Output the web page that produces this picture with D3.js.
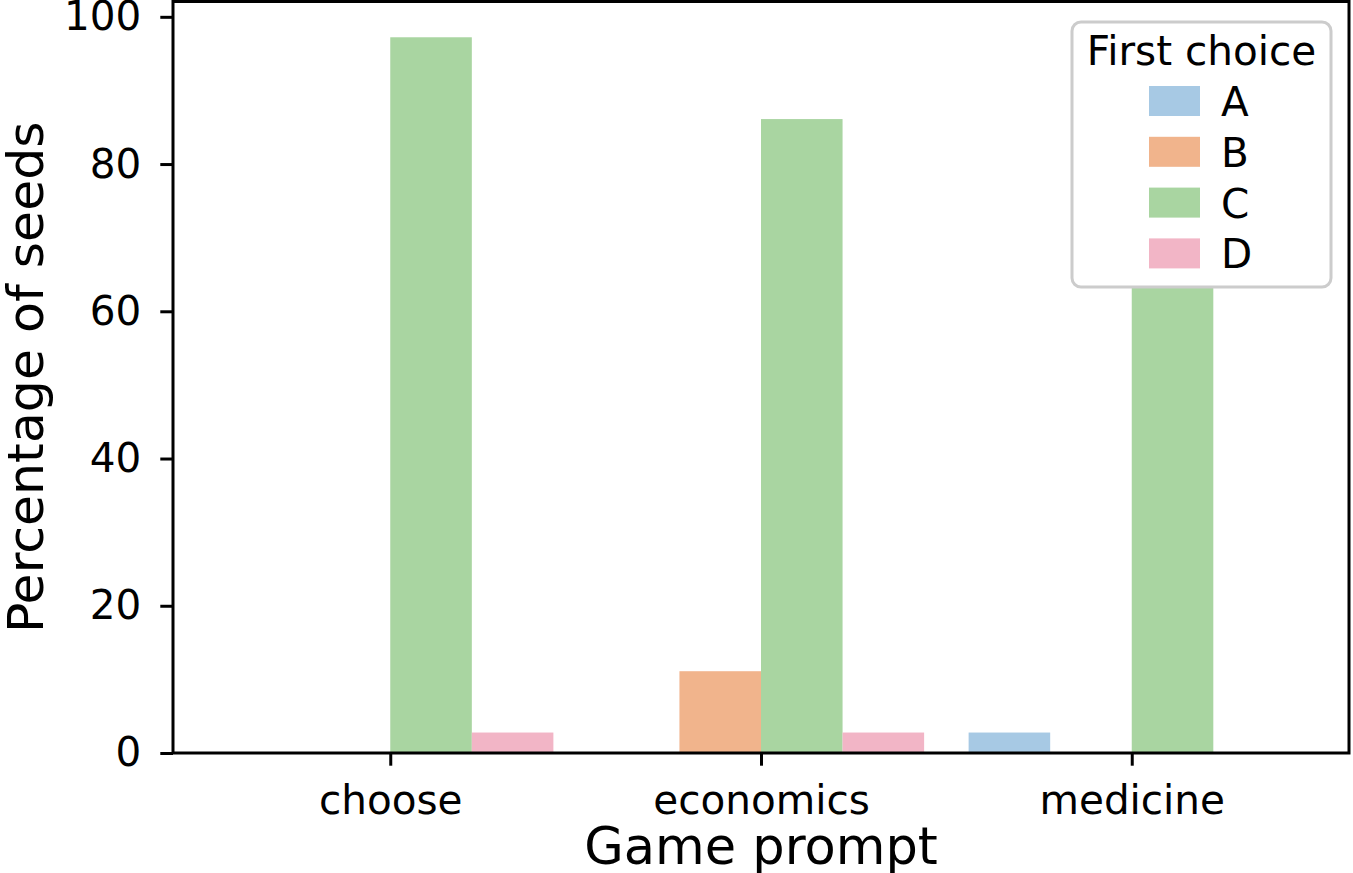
<!DOCTYPE html>
<html><head><meta charset="utf-8">
<script src="https://cdn.jsdelivr.net/npm/d3@7"></script>
<style>body{margin:0;background:#fff}svg{display:block}text{font-family:"DejaVu Sans",sans-serif}</style>
</head><body>
<svg id="c" width="1353" height="873"></svg>
<script>
const categories = ["choose", "economics", "medicine"];
const hues = ["A", "B", "C", "D"];
const valuesA = [0, 0, 2.78];
const valuesB = [0, 11.11, 0];
const valuesC = [97.22, 86.11, 97.22];
const valuesD = [2.78, 2.78, 0];
const yTicks = [0, 20, 40, 60, 80, 100];
const colors = ["#a7c9e4", "#f1b48c", "#a9d5a1", "#f2b5c6"];
const series = [valuesA, valuesB, valuesC, valuesD];

const svg = d3.select("#c");
const L = 173, R = 1349, T = 1.5, B = 753;
const x = d3.scaleLinear().domain([-0.586, 2.586]).range([L, R]);
const y = d3.scaleLinear().domain([0, 102.08]).range([B, T]);
const bw = 0.22;

const rows = [];
categories.forEach((c, ci) => hues.forEach((h, hi) => rows.push({ci, hi, v: series[hi][ci]})));

svg.append("g").selectAll("rect").data(rows.filter(d => d.v > 0)).join("rect")
  .attr("x", d => x(d.ci - 0.44 + bw * d.hi))
  .attr("width", d => x(bw) - x(0))
  .attr("y", d => y(d.v))
  .attr("height", d => y(0) - y(d.v))
  .attr("fill", d => colors[d.hi]);

// axes
const ya = svg.append("g").attr("transform", `translate(${L},0)`)
  .call(d3.axisLeft(y).tickValues(yTicks).tickSize(12.7).tickPadding(19).tickFormat(d3.format("d")));
const xa = svg.append("g").attr("transform", `translate(0,${B})`)
  .call(d3.axisBottom(x).tickValues([0,1,2]).tickSize(12.7).tickPadding(20).tickFormat(i => categories[i]));
[ya, xa].forEach(g => {
  g.select(".domain").remove();
  g.selectAll(".tick line").attr("stroke", "#000").attr("stroke-width", 3);
  g.selectAll(".tick text").attr("font-size", 40.5).attr("fill", "#000").attr("font-family", "DejaVu Sans");
});

// spines
svg.append("rect").attr("x", L).attr("y", T).attr("width", R - L).attr("height", B - T)
  .attr("fill", "none").attr("stroke", "#000").attr("stroke-width", 3);

// axis labels
svg.append("text").attr("x", (L + R) / 2).attr("y", 864).attr("text-anchor", "middle")
  .attr("font-size", 51).text("Game prompt");
svg.append("text").attr("transform", `translate(43,${(T + B) / 2}) rotate(-90)`).attr("text-anchor", "middle")
  .attr("font-size", 50.5).text("Percentage of seeds");

// legend
const lg = svg.append("g");
lg.append("rect").attr("x", 1072).attr("y", 22).attr("width", 259).attr("height", 265).attr("rx", 9)
  .attr("fill", "#fff").attr("stroke", "#cccccc").attr("stroke-width", 3);
lg.append("text").attr("x", 1201.5).attr("y", 65).attr("text-anchor", "middle").attr("font-size", 40.5).text("First choice");
hues.forEach((h, i) => {
  lg.append("rect").attr("x", 1149).attr("y", 86 + 50.8 * i).attr("width", 51).attr("height", 30).attr("fill", colors[i]);
  lg.append("text").attr("x", 1221).attr("y", 116 + 50.8 * i).attr("font-size", 40.5).text(h);
});
</script>
</body></html>
